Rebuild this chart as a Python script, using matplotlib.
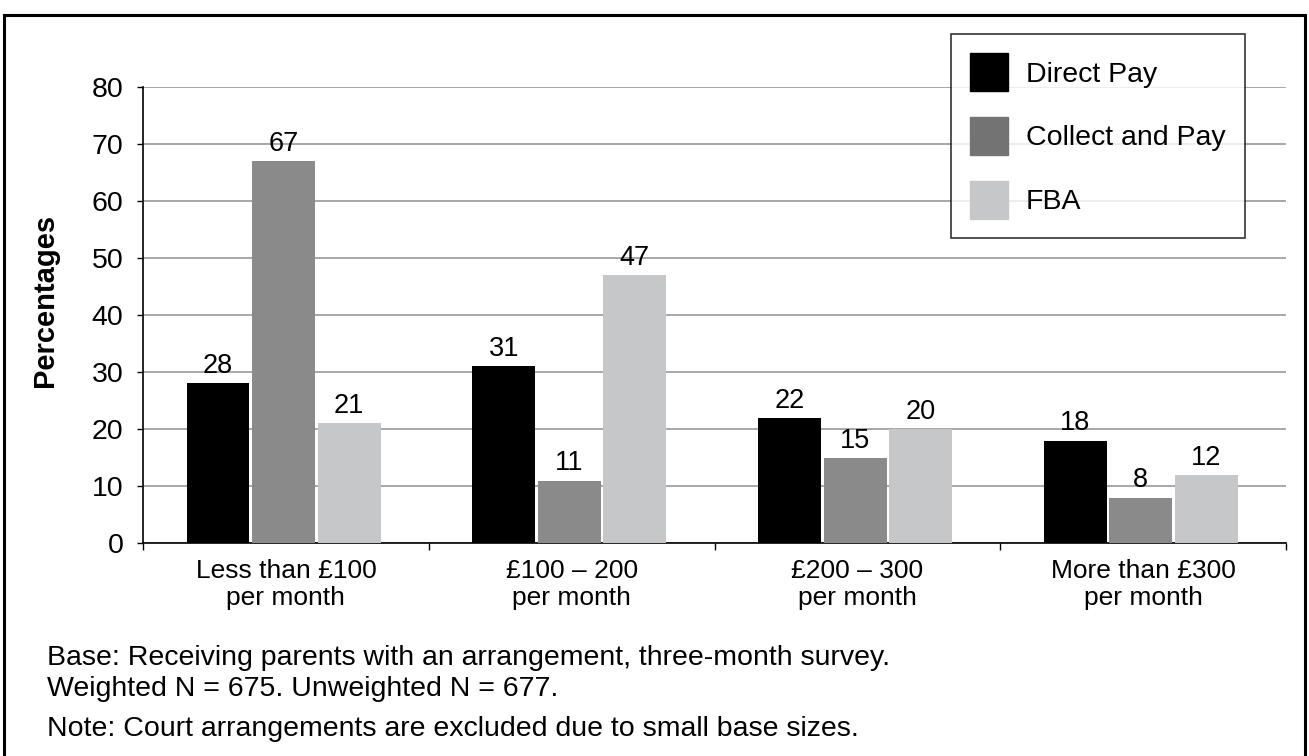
import matplotlib.pyplot as plt
import matplotlib.patches as mpatches
import numpy as np

plt.rcParams['font.family'] = ['Liberation Sans', 'DejaVu Sans']

categories = ['Less than £100\nper month', '£100 – 200\nper month',
              '£200 – 300\nper month', 'More than £300\nper month']
series = ['Direct Pay', 'Collect and Pay', 'FBA']
direct_pay = [28, 31, 22, 18]
collect_pay = [67, 11, 15, 8]
fba = [21, 47, 20, 12]
bar_colors = ['#000000', '#8a8a8a', '#c6c7c9']
legend_colors = ['#000000', '#737373', '#c6c7c9']
y_ticks = [0, 10, 20, 30, 40, 50, 60, 70, 80]
notes = ['Base: Receiving parents with an arrangement, three-month survey.',
         'Weighted N = 675. Unweighted N = 677.',
         'Note: Court arrangements are excluded due to small base sizes.']

W, H = 1309, 756
fig = plt.figure(figsize=(W / 100, H / 100), dpi=100)
ax = fig.add_axes([143 / W, (H - 543.3) / H, 1143 / W, 456.6 / H])

x = np.arange(len(categories))
width = 0.22
step = 0.2295
shift = -0.008
for i, (vals, col) in enumerate(zip([direct_pay, collect_pay, fba], bar_colors)):
    bars = ax.bar(x + shift + (i - 1) * step, vals, width, color=col, zorder=3)
    ax.bar_label(bars, padding=3, fontsize=19.5)

ax.set_xlim(-0.5, 3.5)
ax.set_ylim(0, 80)
ax.set_yticks(y_ticks)
ax.tick_params(axis='y', labelsize=20.5, length=4, width=1, direction='out', pad=10)
ax.set_xticks(x)
ax.set_xticklabels(categories, fontsize=19)
for lbl in ax.get_xticklabels():
    lbl.set_linespacing(1.2)
ax.tick_params(axis='x', length=0, pad=11)
ax.set_xticks(np.arange(-0.5, 4.0, 1.0), minor=True)
ax.tick_params(axis='x', which='minor', length=5, width=1, direction='out')
ax.yaxis.grid(True, color='#a0a0a0', linewidth=1.3, zorder=0)
ax.set_axisbelow(True)
for s in ['top', 'right']:
    ax.spines[s].set_visible(False)
ax.spines['left'].set_linewidth(1.2)
ax.spines['bottom'].set_linewidth(1.2)

fig.text(45 / W, 1 - 300 / H, 'Percentages', fontsize=21, fontweight='bold',
         rotation=90, ha='center', va='center')

handles = [mpatches.Patch(color=c) for c in legend_colors]
leg = fig.legend(handles, series, loc='upper left',
                 bbox_to_anchor=(951 / W, 1 - 34 / H),
                 fontsize=20.5, frameon=True, fancybox=False,
                 handlelength=1.335, handleheight=1.68, handletextpad=0.62,
                 labelspacing=0.9, borderpad=0.68, borderaxespad=0)
leg.get_frame().set_edgecolor('#000000')
leg.get_frame().set_linewidth(1.2)

# notes under the chart
for txt, yy in zip(notes, [658, 689, 729]):
    fig.text(47 / W, 1 - yy / H, txt, fontsize=20.5, va='center')

# outer frame
frame = mpatches.Rectangle((4 / W, -0.1), 1301 / W, 1.1 - 14.5 / H,
                           transform=fig.transFigure, fill=False,
                           edgecolor='#000000', linewidth=2.2, clip_on=False)
fig.patches.append(frame)

fig.savefig('out.png', dpi=100)
